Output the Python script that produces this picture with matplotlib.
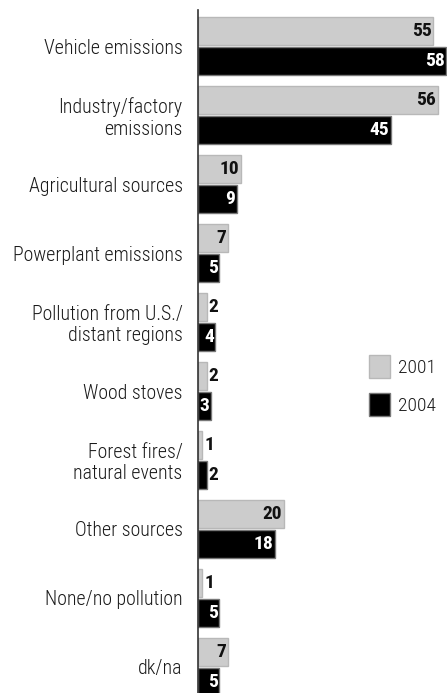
import matplotlib.pyplot as plt

categories = ['Vehicle emissions', 'Industry/factory\nemissions', 'Agricultural sources',
              'Powerplant emissions', 'Pollution from U.S./\ndistant regions', 'Wood stoves',
              'Forest fires/\nnatural events', 'Other sources', 'None/no pollution', 'dk/na']
y2001 = [55, 56, 10, 7, 2, 2, 1, 20, 1, 7]
y2004 = [58, 45, 9, 5, 4, 3, 2, 18, 5, 5]
years = ['2001', '2004']

plt.rcParams['font.family'] = ['Roboto Condensed', 'DejaVu Sans']

fig = plt.figure(figsize=(4.47, 6.93), dpi=100)
ax = fig.add_axes([198 / 447, 0, 249 / 447, 1])

pos = list(range(len(categories)))
off = 0.215
h = 0.4
ax.barh([p - off for p in pos], y2001, height=h, color='#cccccc',
        edgecolor='#b8b8b8', linewidth=1, label=years[0])
ax.barh([p + off for p in pos], y2004, height=h, color='black',
        edgecolor='#777777', linewidth=1, label=years[1])

# value labels: inside the bar end when there is room, otherwise just past it
lab = dict(va='center', fontsize=14, fontweight='bold')
for p, v in zip(pos, y2001):
    if v >= 5:
        ax.text(v - 0.3, p - off, str(v), ha='right', color='#111111', **lab)
    else:
        ax.text(v + 0.45, p - off, str(v), ha='left', color='#111111', **lab)
for p, v in zip(pos, y2004):
    if v >= 3:
        ax.text(v - 0.3, p + off, str(v), ha='right', color='white', **lab)
    else:
        ax.text(v + 0.45, p + off, str(v), ha='left', color='#111111', **lab)

ax.set_xlim(0, 58.2)
ax.set_ylim(9.377, -0.667)
ax.set_yticks(pos)
ax.set_yticklabels(categories, fontsize=14.3, color='#1a1a1a', fontweight='light',
                   linespacing=1.15)
ax.tick_params(axis='y', length=0, pad=11)
ax.set_xticks([])
for s in ['top', 'right', 'bottom']:
    ax.spines[s].set_visible(False)
ax.spines['left'].set_bounds(-0.52, 9.377)
ax.spines['left'].set_color('#333333')
ax.spines['left'].set_linewidth(1.2)

leg = ax.legend(loc='upper left', bbox_to_anchor=(171 / 249, 1 - 355 / 693), frameon=False,
                fontsize=14, handlelength=1.1, handleheight=1.45, labelspacing=0.78,
                handletextpad=0.4, borderpad=0, borderaxespad=0)
for t in leg.get_texts():
    t.set_fontweight('light')
    t.set_color('#1a1a1a')

fig.savefig('out.png', dpi=100)
